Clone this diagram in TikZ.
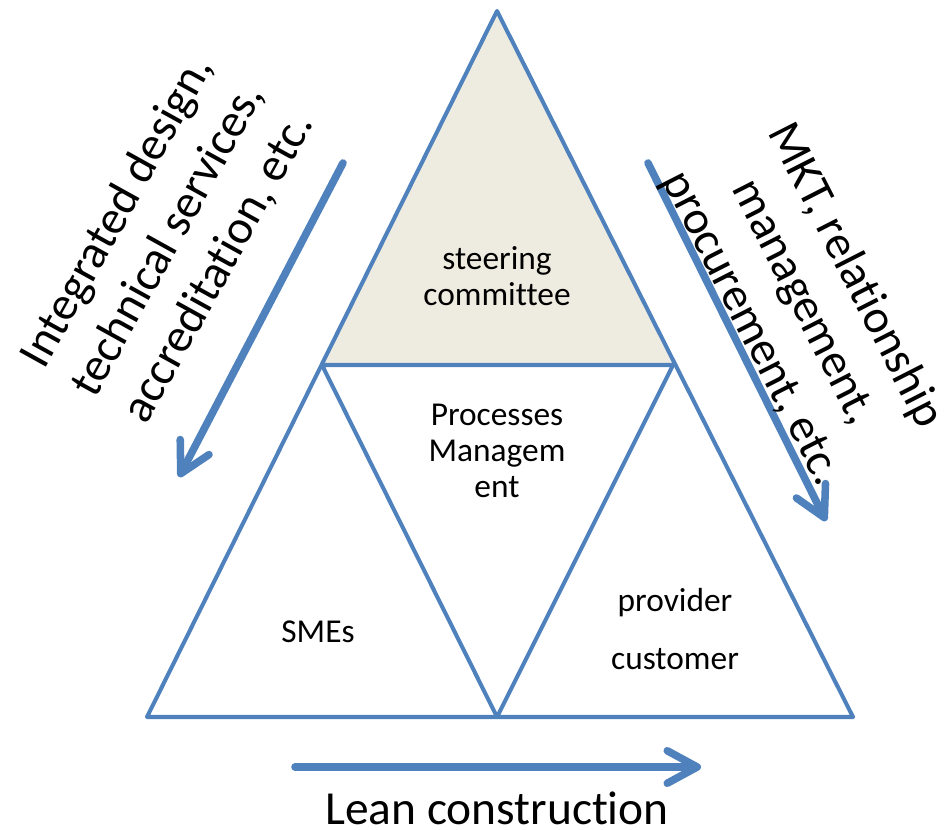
\documentclass[tikz,border=0pt]{standalone}
\usepackage{fontspec}
\setmainfont{Carlito}[Ligatures=NoCommon]
\usetikzlibrary{arrows.meta}
\definecolor{triblue}{HTML}{4F81BD}
\definecolor{triback}{HTML}{EEECE1}
\tikzset{
    side/.style={draw=triblue, line width=2.3pt, line join=round},
    flow/.style={draw=triblue, line width=4.3pt, line cap=round,
        -{Straight Barb[length=6mm,width=6.5mm,round]}},
    tritext/.style={align=center, font=\fontsize{19}{20.5}\selectfont},
    sidetext/.style={align=center, font=\fontsize{27}{33}\selectfont},
}

\begin{document}
\begin{tikzpicture}[x=0.02cm, y=-0.02cm]
\useasboundingbox (0,0) rectangle (952,830);
	% corners of the big triangle and the midpoints of its sides
	\coordinate (apex) at (497,11);
	\coordinate (bl) at (147,717);
	\coordinate (br) at (853,717);
	\coordinate (ml) at (322,365);
	\coordinate (mr) at (673,365);
	\coordinate (mb) at (497,717);
	\fill[triback] (apex) -- (ml) -- (mr) -- cycle;
	\draw[side] (apex) -- (bl) -- (br) -- cycle;
	\draw[side] (ml) -- (mr) -- (mb) -- cycle;
	% labels inside
	\node[tritext] (steer) at (497,276) {steering\\committee};
	\node[tritext] (proc) at (497,451) {Processes\\Managem\\ent};
	\node[tritext] (smes) at (318,632) {SMEs};
	\node[tritext] (prov) at (675,603) {provider};
	\node[tritext] (cust) at (675,659) {customer};
	% flows around the triangle
	\coordinate (ltail) at (343,163);
	\coordinate (lhead) at (179,477);
	\coordinate (rtail) at (648,163);
	\coordinate (rhead) at (826,521);
	\coordinate (btail) at (295,767);
	\coordinate (bhead) at (701,767);
	\draw[flow] (ltail) -- (lhead);
	\draw[flow] (rtail) -- (rhead);
	\draw[flow] (btail) -- (bhead);
	\node[sidetext, rotate=61] (design) at (168,240) {Integrated design,\\technical services,\\accreditation, etc.};
	\node[sidetext, rotate=-63] (mkt) at (803,302) {MKT, relationship\\management,\\procurement, etc.};
	\node[sidetext] (lean) at (497,808) {Lean construction};
\end{tikzpicture}
\end{document}
